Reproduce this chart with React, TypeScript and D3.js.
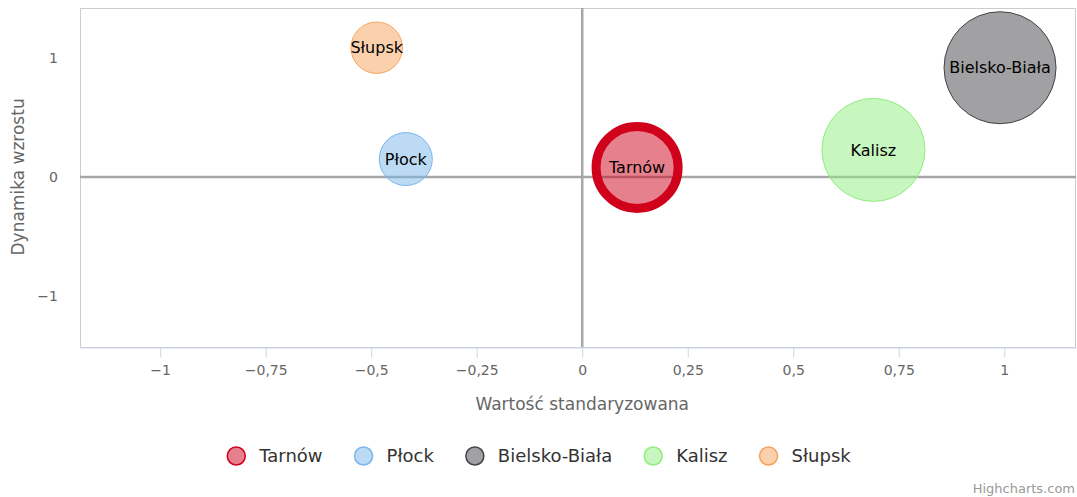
import React, { useRef, useEffect } from 'react';
import * as d3 from 'd3';

// bubble data
const cities = ['Tarnów', 'Płock', 'Bielsko-Biała', 'Kalisz', 'Słupsk'];
const xValues = [0.13, -0.418, 0.99, 0.69, -0.487];
const yValues = [0.08, 0.15, 0.918, 0.227, 1.086];
const zValues = [64.6, 22.4, 100, 84.6, 21.1];
const colors = ['#d0021b', '#7cb5ec', '#434348', '#90ed7d', '#f7a35c'];

const xTicks = [-1, -0.75, -0.5, -0.25, 0, 0.25, 0.5, 0.75, 1];
const yTicks = [-1, 0, 1];

const xTitle = 'Wartość standaryzowana';
const yTitle = 'Dynamika wzrostu';

const App = () => {
    const ref = useRef<SVGSVGElement>(null);
    const width = 1077;
    const height = 497;

    useEffect(() => {
        document.body.style.margin = '0';
        const font = '"DejaVu Sans", sans-serif';
        const margin = { top: 8, right: 1, bottom: 150, left: 80 };
        const plotW = width - margin.left - margin.right;
        const plotH = height - margin.top - margin.bottom;

        const svg = d3.select(ref.current);
        svg.selectAll('*').remove();

        const x = d3.scaleLinear().domain([-1.19, 1.17]).range([margin.left, margin.left + plotW]);
        const y = d3.scaleLinear().domain([-1.43, 1.42]).range([margin.top + plotH, margin.top]);
        const r = d3.scaleSqrt().domain([0, d3.max(zValues)]).range([0, 56]);

        const locale = d3.formatLocale({ decimal: ',', thousands: ' ', grouping: [3], currency: ['', ''], minus: '\u2212' });
        const fmt = locale.format('.2~f');

        // plot border
        svg.append('rect')
            .attr('x', margin.left + 0.5)
            .attr('y', margin.top + 0.5)
            .attr('width', plotW - 1)
            .attr('height', plotH)
            .attr('fill', 'none')
            .attr('stroke', '#cccccc');

        // plot lines at 0
        svg.append('line')
            .attr('x1', margin.left).attr('x2', margin.left + plotW)
            .attr('y1', y(0)).attr('y2', y(0))
            .attr('stroke', '#a6a6a6').attr('stroke-width', 2.5);
        svg.append('line')
            .attr('x1', x(0)).attr('x2', x(0))
            .attr('y1', margin.top).attr('y2', margin.top + plotH)
            .attr('stroke', '#a6a6a6').attr('stroke-width', 2.5);

        // x axis
        const xAxis = svg.append('g').attr('transform', `translate(0,${margin.top + plotH + 0.5})`)
            .call(d3.axisBottom(x).tickValues(xTicks).tickFormat(fmt).tickSize(10).tickSizeOuter(0).tickPadding(8));
        xAxis.select('.domain').attr('stroke', '#ccd6eb');
        xAxis.selectAll('.tick line').attr('stroke', '#ccd6eb');
        xAxis.selectAll('.tick text').attr('fill', '#666').style('font', `14px ${font}`);

        // y axis labels (no line)
        const yAxis = svg.append('g').attr('transform', `translate(${margin.left},0)`)
            .call(d3.axisLeft(y).tickValues(yTicks).tickFormat(fmt).tickSize(0).tickPadding(22));
        yAxis.select('.domain').remove();
        yAxis.selectAll('.tick text').attr('fill', '#666').style('font', `14px ${font}`);

        // axis titles
        svg.append('text')
            .attr('x', x(0)).attr('y', 410)
            .attr('text-anchor', 'middle')
            .attr('fill', '#666').style('font', `17px ${font}`)
            .text(xTitle);
        svg.append('text')
            .attr('transform', `translate(24,${y(0)}) rotate(-90)`)
            .attr('text-anchor', 'middle')
            .attr('fill', '#666').style('font', `17px ${font}`)
            .text(yTitle);

        // bubbles
        const idx = d3.range(cities.length);
        const bubbles = svg.append('g');
        bubbles.selectAll('circle').data(idx).join('circle')
            .attr('cx', (i) => x(xValues[i]))
            .attr('cy', (i) => y(yValues[i]))
            .attr('r', (i) => (i === 0 ? r(zValues[i]) - 4 : r(zValues[i])))
            .attr('fill', (i) => colors[i])
            .attr('fill-opacity', 0.5)
            .attr('stroke', (i) => colors[i])
            .attr('stroke-width', (i) => (i === 0 ? 9 : 1));
        bubbles.selectAll('text').data(idx).join('text')
            .attr('x', (i) => x(xValues[i]))
            .attr('y', (i) => y(yValues[i]))
            .attr('dy', '0.35em')
            .attr('text-anchor', 'middle')
            .attr('fill', '#000')
            .style('font', `16px ${font}`)
            .text((i) => cities[i]);

        // legend
        const legend = svg.append('g');
        const items = legend.selectAll('g').data(idx).join('g');
        items.append('circle')
            .attr('r', 9)
            .attr('fill', (i) => colors[i])
            .attr('fill-opacity', 0.5)
            .attr('stroke', (i) => colors[i])
            .attr('stroke-width', 1.5);
        items.append('text')
            .attr('x', 23)
            .attr('dy', '0.35em')
            .attr('fill', '#333')
            .style('font', `18px ${font}`)
            .text((i) => cities[i]);
        let offset = 0;
        const widths: number[] = [];
        items.each(function () {
            const t = d3.select(this).select('text').node() as SVGTextElement;
            widths.push(23 + t.getComputedTextLength());
        });
        const gap = 41;
        const total = d3.sum(widths) + gap * (widths.length - 1);
        const start = (width - total) / 2 + 5;
        items.attr('transform', (_, k) => {
            const pos = start + offset;
            offset += widths[k] + gap;
            return `translate(${pos},456)`;
        });

        // credits
        svg.append('text')
            .attr('x', width - 2).attr('y', 493)
            .attr('text-anchor', 'end')
            .attr('fill', '#999')
            .style('font', `13px ${font}`)
            .text('Highcharts.com');
    }, []);

    return <svg ref={ref} width={width} height={height} style={{ display: 'block' }} />;
};

export default App;
